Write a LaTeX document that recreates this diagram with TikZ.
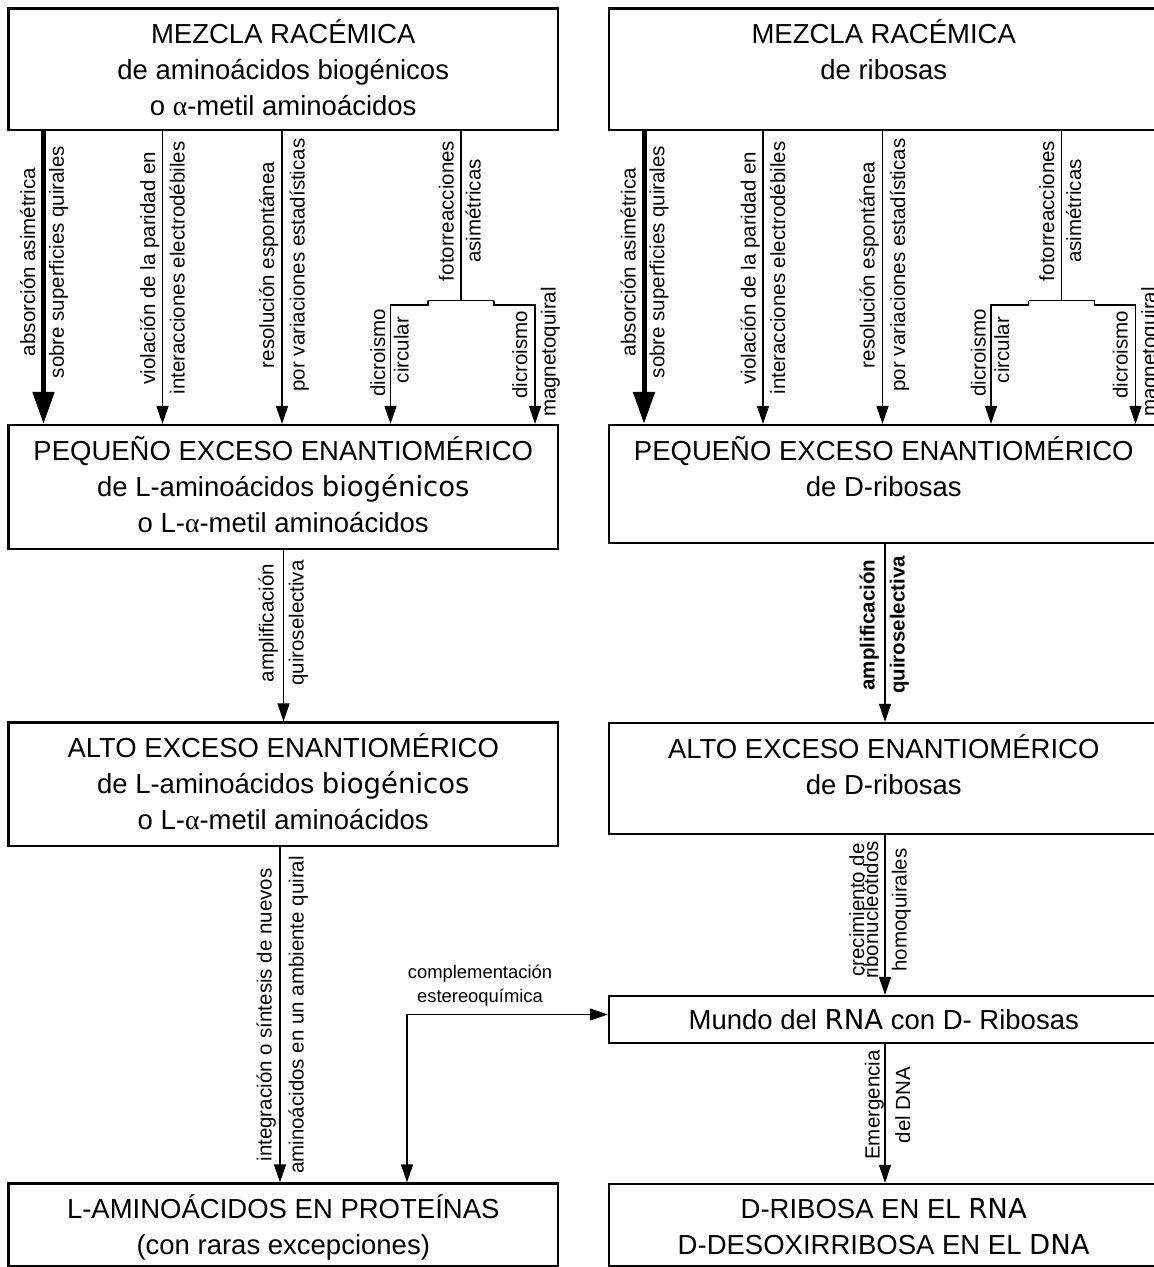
\documentclass[tikz,border=0pt]{standalone}
\usepackage{fontspec}
\setmainfont{Liberation Sans}
\newfontfamily\djv{DejaVu Sans}
\newfontfamily\grk{Liberation Serif}
\usetikzlibrary{arrows.meta}
\begin{document}
\begin{tikzpicture}[x=1pt,y=-1pt,
  box/.style={draw,line width=2.2pt,inner sep=0pt,minimum width=549.5pt},
  bt/.style={font=\fontsize{27.5}{36}\selectfont,inner sep=0pt,anchor=base},
  lb/.style={font=\fontsize{20.5}{28}\selectfont,inner sep=0pt,anchor=base,rotate=90},
  lbb/.style={font=\fontsize{20.5}{28}\selectfont\bfseries,inner sep=0pt,anchor=base,rotate=90},
  cl/.style={font=\fontsize{18.4}{24}\selectfont,inner sep=0pt,anchor=base},
  conn/.style={line width=1.3pt,-{Triangle[length=18pt,width=12pt]}},
  dconn/.style={line width=1.3pt,{Triangle[length=18pt,width=12pt]}-{Triangle[length=18pt,width=12pt]}},
  plain/.style={line width=1.3pt},
  bigconn/.style={line width=5pt,-{Triangle[length=32pt,width=21pt]}},
]
\fill[white] (0,0) rectangle (1154,1267);
\useasboundingbox (0,0) rectangle (1154,1267);
\clip (0,0) rectangle (1154,1267);

% boxes
\node[box,minimum height=121.5pt] (L1) at (283.25,69.25) {};
\node[box,minimum height=121.5pt] (R1) at (883.75,69.25) {};
\node[box,minimum height=124pt] (L2) at (283.25,487) {};
\node[box,minimum height=118pt] (R2) at (883.75,484) {};
\node[box,minimum height=123.5pt] (L3) at (283.25,784.25) {};
\node[box,minimum height=111pt] (R3) at (883.75,778.5) {};
\node[box,minimum height=47pt] (M) at (883.75,1019.5) {};
\node[box,minimum height=82.5pt] (L4) at (283.25,1224.75) {};
\node[box,minimum height=82pt] (R4) at (883.75,1225) {};

% box texts
\node[bt] (L1a) at (283.25,43.5) {MEZCLA RACÉMICA};
\node[bt] (L1b) at (283.25,79.5) {de aminoácidos biogénicos};
\node[bt] (L1c) at (283.25,115.5) {o {\grk α}-metil aminoácidos};
\node[bt] (R1a) at (883.75,43.5) {MEZCLA RACÉMICA};
\node[bt] (R1b) at (883.75,79.5) {de ribosas};

\node[bt] (L2a) at (283.25,460) {PEQUEÑO EXCESO ENANTIOMÉRICO};
\node[bt] (L2b) at (283.25,496) {de L-aminoácidos {\djv biogénicos}};
\node[bt] (L2c) at (283.25,532) {o L-{\grk α}-metil aminoácidos};
\node[bt] (R2a) at (883.75,460) {PEQUEÑO EXCESO ENANTIOMÉRICO};
\node[bt] (R2b) at (883.75,496) {de D-ribosas};

\node[bt] (L3a) at (283.25,757) {ALTO EXCESO ENANTIOMÉRICO};
\node[bt] (L3b) at (283.25,793) {de L-aminoácidos {\djv biogénicos}};
\node[bt] (L3c) at (283.25,829) {o L-{\grk α}-metil aminoácidos};
\node[bt] (R3a) at (883.75,758) {ALTO EXCESO ENANTIOMÉRICO};
\node[bt] (R3b) at (883.75,794) {de D-ribosas};

\node[bt] (Ma) at (883.75,1029.5) {Mundo del {\djv RNA} con D- Ribosas};

\node[bt] (L4a) at (283.25,1218) {L-AMINOÁCIDOS EN PROTEÍNAS};
\node[bt] (L4b) at (283.25,1254) {(con raras excepciones)};
\node[bt] (R4a) at (883.75,1218.5) {D-RIBOSA EN EL {\djv RNA}};
\node[bt] (R4b) at (883.75,1254.5) {D-DESOXIRRIBOSA EN EL {\djv DNA}};

% top section, both columns
\foreach \sd/\o in {L/0,R/600.5}{
  \coordinate (\sd A) at ({43.5+\o},0);
  \coordinate (\sd B) at ({162.5+\o},0);
  \coordinate (\sd C) at ({282+\o},0);
  \coordinate (\sd F) at ({461+\o},300.5);
  \coordinate (\sd Fl) at ({428+\o},300.5);
  \coordinate (\sd Fr) at ({494+\o},300.5);
  \coordinate (\sd Dl) at ({390.5+\o},305);
  \coordinate (\sd Dr) at ({535+\o},305);
  \draw[bigconn] (\sd A |- \sd1.south) -- (\sd A |- \sd2.north);
  \draw[conn] (\sd B |- \sd1.south) -- (\sd B |- \sd2.north);
  \draw[conn] (\sd C |- \sd1.south) -- (\sd C |- \sd2.north);
  \draw[plain] (\sd F |- \sd1.south) -- (\sd F);
  \draw[plain] (\sd Fl) -- (\sd Fr);
  \draw[conn] (\sd Fl) |- (\sd Dl) -- (\sd Dl |- \sd2.north);
  \draw[conn] (\sd Fr) |- (\sd Dr) -- (\sd Dr |- \sd2.north);
  \node[lb] (\sd ta) at ({35.2+\o},262) {absorción asimétrica};
  \node[lb] (\sd tb) at ({63.9+\o},262) {sobre superficies quirales};
  \node[lb] (\sd tc) at ({155+\o},268) {violación de la paridad en};
  \node[lb] (\sd td) at ({184.5+\o},268) {interacciones electrodébiles};
  \node[lb] (\sd te) at ({274+\o},265) {resolución espontánea};
  \node[lb] (\sd tf) at ({304.5+\o},265) {por variaciones estadísticas};
  \node[lb] (\sd tg) at ({453.5+\o},211) {fotorreacciones};
  \node[lb] (\sd th) at ({480.5+\o},211) {asimétricas};
  \node[lb] (\sd ti) at ({385.2+\o},353) {dicroismo};
  \node[lb] (\sd tj) at ({408.5+\o},350) {circular};
  \node[lb] (\sd tk) at ({527+\o},355) {dicroismo};
  \node[lb] (\sd tl) at ({555.5+\o},352) {magnetoquiral};
}

% middle arrows
\coordinate (XL) at (283.5,0);
\coordinate (XR) at (885,0);
\coordinate (XI) at (280,0);
\draw[conn] (XL |- L2.south) -- (XL |- L3.north);
\node[lb] (am1) at (273.5,623) {amplificación};
\node[lb] (am2) at (303.5,623) {quiroselectiva};

\draw[conn] (XR |- R2.south) -- (XR |- R3.north);
\node[lbb] (am3) at (874.5,625) {amplificación};
\node[lbb] (am4) at (904.5,625) {quiroselectiva};

\draw[conn] (XR |- R3.south) -- (XR |- M.north);
\node[lb] (cr1) at (864,910) {crecimiento de};
\node[lb] (cr2) at (878,910) {ribonucleótidos};
\node[lb] (cr3) at (906.5,910) {homoquirales};

\draw[conn] (XR |- M.south) -- (XR |- R4.north);
\node[lb] (em1) at (879.5,1105) {Emergencia};
\node[lb] (em2) at (910,1105) {del DNA};

\draw[conn] (XI |- L3.south) -- (XI |- L4.north);
\node[lb] (in1) at (271.5,1015) {integración o síntesis de nuevos};
\node[lb] (in2) at (303.5,1015) {aminoácidos en un ambiente quiral};

% complementation
\coordinate (CX) at (407,1014.5);
\draw[dconn] (CX |- L4.north) -- (CX) -- (M.west |- CX);
\node[cl] (co1) at (480,978) {complementación};
\node[cl] (co2) at (480,1002) {estereoquímica};
\end{tikzpicture}
\end{document}
